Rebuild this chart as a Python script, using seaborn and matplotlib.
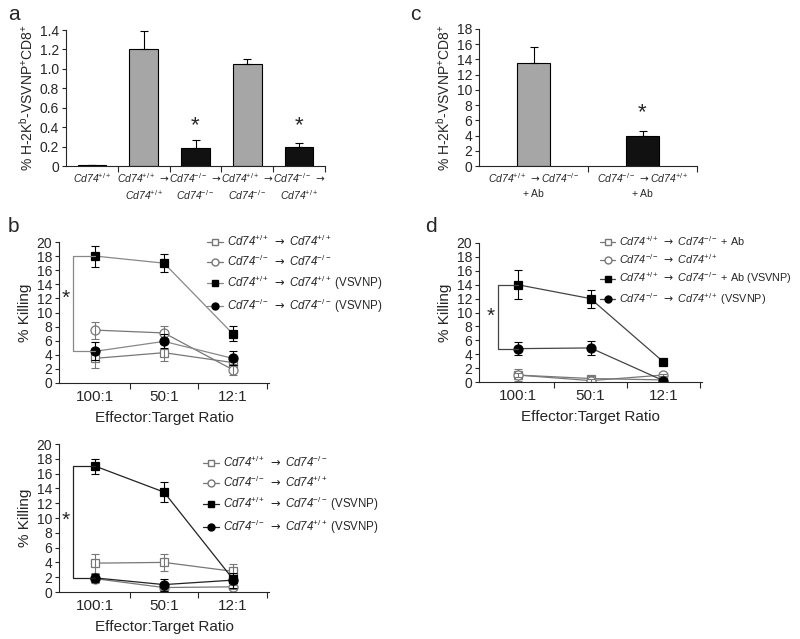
import matplotlib
matplotlib.use("Agg")
import matplotlib.pyplot as plt
from matplotlib import font_manager
from matplotlib.ticker import FuncFormatter
from matplotlib.lines import Line2D
import numpy as np
import pandas as pd
import seaborn as sns

# ---- data -------------------------------------------------------------
WT = r"Cd74$^{+/+}$"
KO = r"Cd74$^{-/-}$"
AR = r"$\mathsf{\rightarrow}$"
VSV = r"$\mathrm{(VSVNP)}$"
AB = r"$\mathrm{+\ Ab}$"

a_labels = [WT, f"{WT} {AR}\n{WT}", f"{KO} {AR}\n{KO}", f"{WT} {AR}\n{KO}", f"{KO} {AR}\n{WT}"]
a_values = [0.01, 1.20, 0.19, 1.05, 0.20]
a_errors = [0.005, 0.19, 0.08, 0.05, 0.04]
a_colors = ["#111111", "#a6a6a6", "#111111", "#a6a6a6", "#111111"]
a_star = [False, False, True, False, True]

c_labels = [f"{WT} {AR}{KO}\n{AB}", f"{KO} {AR}{WT}\n{AB}"]
c_values = [13.5, 4.0]
c_errors = [2.2, 0.6]
c_colors = ["#a6a6a6", "#111111"]
c_star = [False, True]

ratios = ["100:1", "50:1", "12:1"]

b1_names = [f"{WT} {AR} {WT}", f"{KO} {AR} {KO}", f"{WT} {AR} {WT} {VSV}", f"{KO} {AR} {KO} {VSV}"]
b1_values = [[3.5, 4.3, 2.9], [7.5, 7.1, 1.9], [18.0, 17.0, 7.0], [4.5, 5.9, 3.5]]
b1_errors = [[1.4, 1.2, 0.6], [1.2, 1.0, 0.8], [1.5, 1.3, 1.1], [1.3, 1.0, 1.0]]

b2_names = [f"{WT} {AR} {KO}", f"{KO} {AR} {WT}", f"{WT} {AR} {KO} {VSV}", f"{KO} {AR} {WT} {VSV}"]
b2_values = [[3.9, 4.0, 2.8], [1.8, 0.6, 0.7], [17.0, 13.5, 1.8], [1.9, 1.0, 1.6]]
b2_errors = [[1.3, 1.2, 1.0], [0.6, 0.3, 0.3], [1.0, 1.4, 0.5], [0.6, 0.8, 1.0]]

d_names = [f"{WT} {AR} {KO} {AB}", f"{KO} {AR} {WT}", f"{WT} {AR} {KO} {AB} {VSV}", f"{KO} {AR} {WT} {VSV}"]
d_values = [[1.0, 0.5, 0.3], [1.0, 0.2, 1.0], [14.0, 12.0, 2.9], [4.8, 4.9, 0.2]]
d_errors = [[0.8, 0.4, 0.2], [0.3, 0.2, 0.2], [2.1, 1.3, 0.2], [0.9, 1.0, 0.2]]

# ---- style ------------------------------------------------------------
# the source figure's labels look horizontally squeezed; use a narrow face when present
installed = {f.name for f in font_manager.fontManager.ttflist}
NARROW = "Liberation Sans Narrow" if "Liberation Sans Narrow" in installed else "Liberation Sans"
label_size = 9 if NARROW != "Liberation Sans" else 7.5
legend_size = 9.5 if NARROW != "Liberation Sans" else 8.3

sns.set_theme(style="ticks")
plt.rcParams["font.family"] = ["Liberation Sans", "DejaVu Sans"]
plt.rcParams["mathtext.fontset"] = "custom"
plt.rcParams["mathtext.rm"] = NARROW
plt.rcParams["mathtext.it"] = NARROW + ":italic"
plt.rcParams["mathtext.bf"] = NARROW + ":bold"
plt.rcParams["mathtext.sf"] = "DejaVu Sans"
plt.rcParams["axes.linewidth"] = 0.8
plt.rcParams["xtick.major.width"] = 0.8
plt.rcParams["ytick.major.width"] = 0.8
plt.rcParams["xtick.minor.width"] = 0.8

W, H = 800, 639
fig = plt.figure(figsize=(W / 100, H / 100), dpi=100)


def px_axes(x0, y0, x1, y1):
    return fig.add_axes([x0 / W, 1 - y1 / H, (x1 - x0) / W, (y1 - y0) / H])


def style_axes(ax, n):
    sns.despine(ax=ax)
    ax.set_xlim(-0.5, n - 0.5)
    ax.set_xticks(np.arange(n))
    ax.set_xticks(np.arange(n) + 0.5, minor=True)
    ax.tick_params(axis="x", which="major", length=0, pad=5)
    ax.tick_params(axis="x", which="minor", length=4, direction="out")
    ax.tick_params(axis="y", length=3, pad=2, labelsize=10)
    ax.set_xlabel("")


def bar_panel(ax, labels, values, errors, colors, stars, width, ymax, step, fmt, star_y, ylabel):
    df = pd.DataFrame({"cat": labels, "val": values})
    sns.barplot(data=df, x="cat", y="val", hue="cat", palette=colors, legend=False,
                width=width, edgecolor="black", linewidth=0.8, ax=ax)
    x = np.arange(len(values))
    ax.errorbar(x, values, yerr=[np.zeros(len(errors)), errors], fmt="none",
                ecolor="black", elinewidth=0.8, capsize=3, capthick=0.8)
    for xi, s in zip(x, stars):
        if s:
            ax.text(xi, star_y, "*", ha="center", va="center", fontsize=16)
    style_axes(ax, len(values))
    ax.set_ylim(0, ymax)
    ax.set_yticks(np.arange(0, ymax + step / 2, step))
    ax.yaxis.set_major_formatter(FuncFormatter(fmt))
    ax.set_xticklabels(labels, family=[NARROW, "DejaVu Sans"], fontsize=label_size,
                       fontstyle="italic", linespacing=1.2)
    ax.tick_params(axis="x", which="major", pad=4)
    ax.set_ylabel(ylabel, fontsize=10, labelpad=3)


def line_panel(ax, names, values, errors, line_color, star_y, bracket_x):
    markers = ["s", "o", "s", "o"]
    filled = [False, False, True, True]
    x = np.arange(len(ratios))
    handles = []
    for name, vals, errs, m, f in zip(names, values, errors, markers, filled):
        col = "black" if f else "#777777"
        lc = line_color if f else "#777777"
        sns.lineplot(x=x, y=vals, ax=ax, color=lc, linewidth=0.9,
                     marker=m, markersize=6 if m == "s" else 6.5,
                     markerfacecolor=col if f else "white", markeredgecolor=col,
                     markeredgewidth=0.9)
        ax.errorbar(x, vals, yerr=errs, fmt="none", ecolor=col,
                    elinewidth=0.8, capsize=3, capthick=0.8)
        handles.append(Line2D([], [], color=lc, linewidth=0.9, marker=m,
                              markersize=5, markerfacecolor=col if f else "white",
                              markeredgecolor=col, label=name))
    # significance bracket between filled series at the first ratio
    top = values[2][0]
    bottom = values[3][0]
    ax.plot([0, bracket_x, bracket_x, 0], [top, top, bottom, bottom],
            color=line_color, linewidth=0.9)
    ax.text(bracket_x - 0.1, star_y, "*", ha="center", va="center", fontsize=15)
    style_axes(ax, len(ratios))
    ax.set_xlim(-0.53, 2.53)
    ax.set_xticklabels(ratios, fontsize=11)
    ax.set_ylim(0, 20)
    ax.set_yticks(np.arange(0, 21, 2))
    ax.set_ylabel("% Killing", fontsize=11, labelpad=3)
    ax.set_xlabel("Effector:Target Ratio", fontsize=11, labelpad=5)
    return handles


def legend(handles, x, y, size=legend_size):
    fig.legend(handles=handles, loc="upper left", bbox_to_anchor=(x / W, 1 - y / H),
               frameon=False,
               prop={"family": [NARROW, "DejaVu Sans"], "size": size, "style": "italic"},
               handlelength=1.4, handletextpad=0.35,
               labelspacing=0.42, borderpad=0, borderaxespad=0)


ylab = r"% H-2K$^{\mathrm{b}}$-VSVNP$^{+}$CD8$^{+}$"

# panel a
ax_a = px_axes(66, 30, 325, 166)
bar_panel(ax_a, a_labels, a_values, a_errors, a_colors, a_star, 0.55, 1.4, 0.2,
          lambda v, p: "0" if abs(v) < 1e-9 else f"{v:.1f}", 0.42, ylab)

# panel c
ax_c = px_axes(479, 29, 697, 166)
bar_panel(ax_c, c_labels, c_values, c_errors, c_colors, c_star, 0.3, 18, 2,
          lambda v, p: f"{v:.0f}", 7.0, ylab)

# panel b (top)
ax_b1 = px_axes(59, 242, 269, 383)
legend(line_panel(ax_b1, b1_names, b1_values, b1_errors, "#888888", 12.0, -0.33), 207, 234)

# panel b (bottom)
ax_b2 = px_axes(59, 444, 269, 592)
legend(line_panel(ax_b2, b2_names, b2_values, b2_errors, "#222222", 9.7, -0.33), 203, 455)

# panel d
ax_d = px_axes(479, 243, 702, 382)
legend(line_panel(ax_d, d_names, d_values, d_errors, "#444444", 9.4, -0.27), 600, 234,
       size=legend_size - 0.5)

# panel letters
for letter, (px, py) in {"a": (8, 14), "b": (8, 226), "c": (410, 14), "d": (425, 226)}.items():
    fig.text(px / W, 1 - py / H, letter, fontsize=15, ha="left", va="center")

fig.savefig("out.png", dpi=100, facecolor="white")
